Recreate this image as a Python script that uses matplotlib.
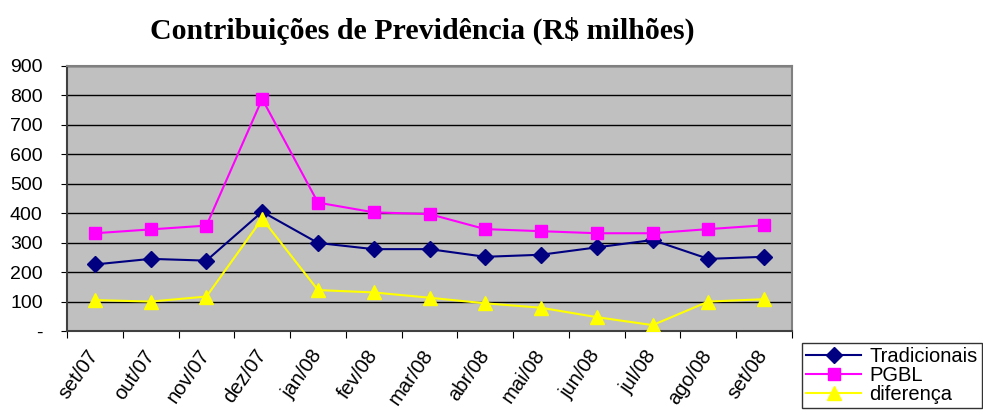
import matplotlib
matplotlib.use("Agg")
import matplotlib.pyplot as plt
import matplotlib.transforms as mtransforms
import numpy as np

months = ["set/07", "out/07", "nov/07", "dez/07", "jan/08", "fev/08", "mar/08",
          "abr/08", "mai/08", "jun/08", "jul/08", "ago/08", "set/08"]
tradicionais = [226, 245, 239, 405, 299, 278, 278, 252, 259, 284, 309, 245, 252]
pgbl = [332, 345, 358, 788, 436, 403, 397, 346, 339, 332, 332, 346, 359]
diferenca = [105, 100, 117, 381, 139, 131, 113, 94, 79, 47, 20, 100, 108]
yticks = [0, 100, 200, 300, 400, 500, 600, 700, 800, 900]
ytick_labels = ["-", "100", "200", "300", "400", "500", "600", "700", "800", "900"]

plt.rcParams['font.family'] = ['Liberation Sans', 'DejaVu Sans']

fig = plt.figure(figsize=(9.83, 4.18), dpi=100)
ax = fig.add_axes([67/983, 1 - 331/418, (792-67)/983, (331-66)/418])
ax.set_facecolor("#C0C0C0")

x = np.arange(len(months))
ax.plot(x, tradicionais, color="#000080", marker="D", markersize=8, lw=1.5,
        label="Tradicionais", zorder=3)
ax.plot(x, pgbl, color="#FF00FF", marker="s", markersize=9, lw=1.5,
        label="PGBL", zorder=3)
ax.plot(x, diferenca, color="#FFFF00", marker="^", markersize=10, lw=1.5,
        label="diferença", zorder=3)

ax.set_xlim(-0.5, len(months) - 0.5)
ax.set_ylim(0, 900)
ax.set_yticks(yticks)
ax.set_yticklabels(ytick_labels, fontsize=14)
ax.yaxis.grid(True, color="black", lw=1)
ax.set_axisbelow(True)

ax.set_xticks(np.arange(-0.5, len(months), 1.0))
ax.set_xticklabels([])
ax.set_xticks(x, minor=True)
ax.set_xticklabels(months, minor=True, rotation=55, ha="right",
                   rotation_mode="anchor", fontsize=14.5)
ax.tick_params(axis="x", which="minor", length=0, pad=11)
ax.tick_params(axis="x", which="major", length=5, direction="out", color="black")
ax.tick_params(axis="y", length=4, direction="out", color="black", pad=13.5)
offset = mtransforms.ScaledTranslation(-8/100, 0, fig.dpi_scale_trans)
for lbl in ax.get_xticklabels(minor=True):
    lbl.set_transform(lbl.get_transform() + offset)

for s in ["top", "right"]:
    ax.spines[s].set_color("#808080")
    ax.spines[s].set_linewidth(1.5)
for s in ["left", "bottom"]:
    ax.spines[s].set_color("#404040")
    ax.spines[s].set_linewidth(1.5)

fig.text(422/983, 1 - 31/418, "Contribuições de Previdência (R$ milhões)",
         ha="center", va="center", fontsize=21.5, fontweight="bold",
         family=["Liberation Serif", "DejaVu Serif"])

leg = fig.legend(loc="upper left", bbox_to_anchor=(802/983, 1 - 343/418),
                 fontsize=14.5, frameon=True, fancybox=False, borderpad=0.2,
                 labelspacing=0.0, handlelength=2.75, handletextpad=0.4,
                 borderaxespad=0)
leg.get_frame().set_edgecolor("black")
leg.get_frame().set_linewidth(1)

fig.savefig("out.png", dpi=100)
